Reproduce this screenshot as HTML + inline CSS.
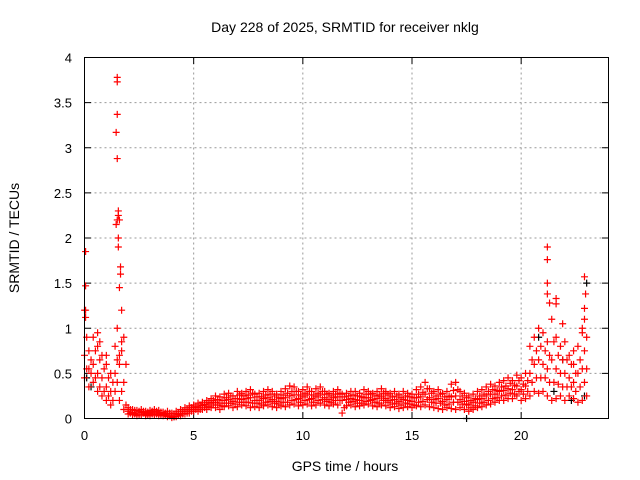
<!DOCTYPE html>
<html><head><meta charset="utf-8"><style>
body{margin:0;background:#fff}
svg{display:block;font-family:"Liberation Sans",sans-serif}
</style></head><body>
<svg id="chart" width="640" height="480" viewBox="0 0 640 480">
<rect width="640" height="480" fill="#fff"/>
<text x="345" y="32" font-size="14" text-anchor="middle">Day 228 of 2025, SRMTID for receiver nklg</text>
<text x="345" y="471" font-size="14" text-anchor="middle">GPS time / hours</text>
<text transform="translate(19,238) rotate(-90)" font-size="14" text-anchor="middle">SRMTID / TECUs</text>
<g id="grid"></g><g id="ticks"></g><g id="pts"></g>
<rect x="84.5" y="57.5" width="524" height="361" fill="none" stroke="#000"/>
</svg>
<script>
const xTicks=[0,5,10,15,20];
const yTicks=[0,0.5,1,1.5,2,2.5,3,3.5,4];
const yTickLabels=["0","0.5","1","1.5","2","2.5","3","3.5","4"];
const step=0.2;
const lo=[0.45,0.35,0.4,0.3,0.25,0.2,0.15,0.3,0.2,0.1,
0.05,0.04,0.03,0.04,0.03,0.03,0.04,0.03,0.03,0.02,
0.01,0.02,0.03,0.05,0.06,0.08,0.08,0.1,0.1,0.12,
0.12,0.1,0.13,0.14,0.12,0.13,0.15,0.14,0.12,0.13,
0.12,0.14,0.15,0.13,0.12,0.14,0.13,0.15,0.16,0.14,
0.15,0.16,0.14,0.15,0.17,0.15,0.14,0.16,0.15,0.06,
0.14,0.15,0.13,0.14,0.15,0.16,0.14,0.13,0.15,0.14,
0.12,0.13,0.11,0.12,0.13,0.12,0.14,0.13,0.15,0.13,
0.12,0.11,0.1,0.12,0.11,0.1,0.12,0.1,0.08,0.1,
0.12,0.13,0.15,0.16,0.18,0.2,0.2,0.22,0.22,0.25,
0.2,0.22,0.25,0.3,0.28,0.3,0.25,0.2,0.22,0.25,
0.2,0.25,0.22,0.18,0.2,0.25];
const q1=[0.55,0.5,0.45,0.35,0.3,0.25,0.2,0.4,0.3,0.15,
0.06,0.05,0.04,0.06,0.04,0.05,0.05,0.04,0.04,0.03,
0.02,0.04,0.05,0.06,0.08,0.1,0.1,0.12,0.13,0.15,
0.15,0.14,0.17,0.17,0.16,0.18,0.18,0.18,0.17,0.17,
0.16,0.18,0.19,0.17,0.16,0.18,0.18,0.2,0.21,0.18,
0.2,0.21,0.18,0.2,0.21,0.19,0.18,0.2,0.2,0.12,
0.18,0.19,0.17,0.17,0.19,0.2,0.18,0.17,0.2,0.18,
0.16,0.17,0.15,0.17,0.16,0.15,0.18,0.19,0.21,0.18,
0.17,0.17,0.15,0.16,0.18,0.18,0.16,0.15,0.12,0.14,
0.17,0.18,0.2,0.22,0.23,0.25,0.26,0.28,0.27,0.3,
0.27,0.3,0.4,0.45,0.45,0.45,0.4,0.4,0.38,0.35,
0.35,0.35,0.3,0.35,0.4,0.4];
const mid=[0.7,0.55,0.6,0.5,0.45,0.35,0.3,0.5,0.6,0.4,
0.08,0.07,0.06,0.07,0.05,0.06,0.07,0.06,0.05,0.05,
0.03,0.05,0.06,0.08,0.1,0.12,0.12,0.14,0.15,0.17,
0.18,0.17,0.2,0.21,0.19,0.22,0.21,0.22,0.23,0.2,
0.2,0.22,0.23,0.21,0.19,0.22,0.23,0.25,0.26,0.22,
0.24,0.26,0.22,0.24,0.26,0.23,0.21,0.23,0.24,0.2,
0.21,0.22,0.21,0.2,0.23,0.23,0.21,0.22,0.24,0.22,
0.2,0.21,0.19,0.21,0.2,0.19,0.23,0.24,0.27,0.23,
0.21,0.22,0.19,0.21,0.24,0.25,0.21,0.19,0.16,0.18,
0.21,0.22,0.25,0.27,0.27,0.3,0.31,0.33,0.32,0.36,
0.32,0.36,0.5,0.6,0.65,0.6,0.55,0.65,0.55,0.5,
0.5,0.45,0.4,0.5,0.55,0.55];
const q3=[0.9,0.65,0.75,0.65,0.55,0.45,0.4,0.65,0.75,0.6,
0.1,0.09,0.08,0.08,0.07,0.08,0.08,0.07,0.06,0.06,
0.05,0.06,0.08,0.1,0.12,0.13,0.15,0.16,0.18,0.2,
0.21,0.2,0.23,0.25,0.22,0.26,0.25,0.26,0.28,0.24,
0.24,0.26,0.27,0.25,0.23,0.26,0.28,0.3,0.3,0.26,
0.28,0.3,0.26,0.28,0.3,0.27,0.25,0.27,0.28,0.24,
0.25,0.26,0.25,0.24,0.27,0.27,0.25,0.26,0.28,0.26,
0.24,0.25,0.23,0.25,0.24,0.23,0.27,0.29,0.33,0.28,
0.25,0.27,0.24,0.25,0.31,0.32,0.25,0.23,0.2,0.22,
0.25,0.27,0.3,0.32,0.31,0.35,0.36,0.39,0.37,0.42,
0.38,0.42,0.65,0.75,0.8,0.75,0.7,0.85,0.7,0.65,
0.65,0.6,0.5,0.65,0.75,0.7];
const hi=[1.2,0.75,0.9,0.8,0.7,0.6,0.5,0.8,2.2,0.9,
0.12,0.1,0.09,0.1,0.08,0.09,0.1,0.09,0.07,0.08,
0.06,0.08,0.1,0.12,0.14,0.15,0.17,0.18,0.2,0.22,
0.25,0.24,0.27,0.28,0.25,0.3,0.28,0.3,0.32,0.27,
0.28,0.3,0.32,0.3,0.27,0.3,0.33,0.36,0.35,0.3,
0.32,0.35,0.3,0.33,0.35,0.3,0.28,0.3,0.32,0.27,
0.28,0.3,0.3,0.28,0.32,0.3,0.28,0.3,0.33,0.3,
0.28,0.3,0.27,0.3,0.28,0.27,0.32,0.35,0.4,0.33,
0.3,0.32,0.28,0.3,0.38,0.4,0.3,0.28,0.25,0.27,
0.3,0.32,0.35,0.38,0.36,0.4,0.42,0.45,0.42,0.48,
0.45,0.5,0.8,0.9,1.0,0.95,0.85,1.1,0.9,0.8,
0.85,0.7,0.6,0.8,0.95,0.9];
const spikeT=[0.05,0.05,0.05,0.05,1.5,1.5,1.5,1.45,1.5,1.55,1.55,1.5,1.45,1.55,1.55,1.65,1.65,1.6,1.7,1.5,1.7,1.6,21.2,21.2,21.2,21.2,21.3,21.6,21.6,22.9,22.95,22.9,22.9,22.8,21.9,22.4,0.6,0.7,1.0];
const spikeV=[1.85,1.47,1.2,1.12,3.78,3.73,3.37,3.17,2.88,2.3,2.25,2.2,2.15,2.0,1.9,1.68,1.6,1.45,1.2,1.0,0.85,0.7,1.9,1.76,1.5,1.38,1.28,1.27,1.33,1.57,1.38,1.22,1.1,1.0,1.05,0.75,0.95,0.85,0.7];
const blackT=[0.1,0.3,4.1,17.5,20.8,21.5,21.9,22.3,22.9,23.0];
const blackV=[0.45,0.35,0.02,0.0,0.9,0.3,0.65,0.2,0.25,1.5];
const X=t=>84.5+t*524/24, Y=v=>418.5-v*361/4;
const NS="http://www.w3.org/2000/svg";
const grid=document.getElementById('grid'),tk=document.getElementById('ticks'),pts=document.getElementById('pts');
function mk(tag,attrs,parent){const e=document.createElementNS(NS,tag);for(const k in attrs)e.setAttribute(k,attrs[k]);parent.appendChild(e);return e;}
xTicks.forEach(t=>{
 if(t>0){const g=mk('line',{x1:X(t),x2:X(t),y1:57.5,y2:418.5,stroke:'#999','stroke-dasharray':'2,3'},grid);
 
 }
 const l=mk('text',{x:X(t),y:440,'font-size':13,'text-anchor':'middle'},tk);l.textContent=t;
 
 
 mk('line',{x1:X(t),x2:X(t),y1:418.5,y2:412,stroke:'#000'},tk);
 mk('line',{x1:X(t),x2:X(t),y1:57.5,y2:64,stroke:'#000'},tk);
});
yTicks.forEach((v,i)=>{
 if(v>0&&v<4){const g=mk('line',{x1:84.5,x2:608.5,y1:Y(v),y2:Y(v),stroke:'#999','stroke-dasharray':'2,3'},grid);
 
 }
 const l=mk('text',{x:72,y:Y(v)+5,'font-size':13,'text-anchor':'end'},tk);l.textContent=yTickLabels[i];
 
 
 mk('line',{x1:84.5,x2:91,y1:Y(v),y2:Y(v),stroke:'#000'},tk);
 mk('line',{x1:608.5,x2:602,y1:Y(v),y2:Y(v),stroke:'#000'},tk);
});
function cross(t,v,c){const x=X(t),y=Y(v);
 const p=mk('path',{d:`M${x-3.5},${y}H${x+3.5}M${x},${y-3.5}V${y+3.5}`,stroke:c,'stroke-width':1.2,fill:'none'},pts);
 
 }
blackT.forEach((t,i)=>cross(t,blackV[i],'#000'));
[lo,mid,hi].forEach(arr=>arr.forEach((v,i)=>cross(i*step,v,'#f00')));
[q1,q3].forEach(arr=>arr.forEach((v,i)=>{if(i*step+0.1<=23.05)cross(i*step+0.1,v,'#f00');}));
spikeT.forEach((t,i)=>cross(t,spikeV[i],'#f00'));
</script>
</body></html>
